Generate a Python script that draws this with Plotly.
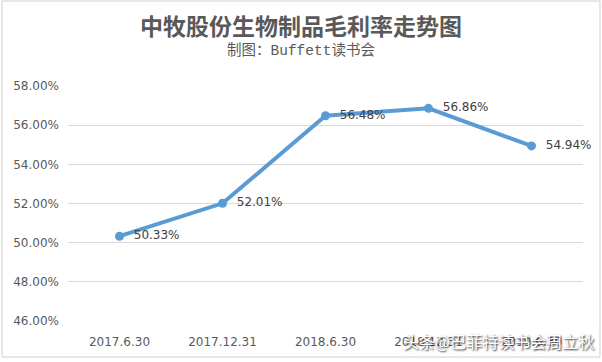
import plotly.graph_objects as go

categories = ["2017.6.30", "2017.12.31", "2018.6.30", "2018.12.31", "2019.6.30"]
margin_pct = [50.33, 52.01, 56.48, 56.86, 54.94]
y_ticks = [46, 48, 50, 52, 54, 56, 58]
y_tick_labels = ["46.00%", "48.00%", "50.00%", "52.00%", "54.00%", "56.00%", "58.00%"]
title_text = "中牧股份生物制品毛利率走势图"
subtitle_text = "制图：Buffett读书会"
watermark_text = "头条@巴菲特读书会周立秋"

L, R, T, B = 68, 19, 86, 41
W, H = 602, 362
pw, ph = W - L - R, H - T - B

def px_x(p):
    return (p - L) / pw

def px_y(p):
    return (H - B - p) / ph

label_color = "#595959"
tick_font = "DejaVu Sans, Noto Sans"
fig = go.Figure()
fig.add_trace(go.Scatter(
    x=categories, y=margin_pct,
    mode="lines+markers+text",
    text=["  %.2f%%" % v for v in margin_pct],
    textposition="middle right",
    textfont=dict(size=12, color="#404040", family=tick_font),
    line=dict(color="#5B9BD5", width=4),
    marker=dict(color="#5B9BD5", size=9),
    cliponaxis=False,
    showlegend=False,
))

fig.update_layout(
    width=W, height=H,
    margin=dict(l=L, r=R, t=T, b=B),
    paper_bgcolor="white", plot_bgcolor="white",
    font=dict(family=tick_font, color=label_color, size=12),
    xaxis=dict(
        type="category", showgrid=False, zeroline=False,
        showline=False, ticks="", tickfont=dict(size=12, color=label_color, family=tick_font),
        ticklabelstandoff=12, range=[-0.5, 4.5],
    ),
    yaxis=dict(
        range=[46, 58], tickvals=y_ticks, ticktext=y_tick_labels,
        showgrid=True, gridcolor="#D9D9D9", gridwidth=1, zeroline=False,
        showline=False, ticks="", tickfont=dict(size=12, color=label_color, family=tick_font),
        ticklabelstandoff=8,
    ),
    shapes=[dict(
        type="rect", xref="paper", yref="paper",
        x0=px_x(2), x1=px_x(600), y0=px_y(357), y1=px_y(1),
        line=dict(color="#D0D0D0", width=1), layer="below",
    )],
    annotations=[
        dict(text="<b>" + title_text + "</b>", xref="paper", yref="paper",
             x=px_x(301), y=px_y(25), showarrow=False, xanchor="center", yanchor="middle",
             font=dict(size=23, color=label_color, family="Noto Sans CJK SC")),
        dict(text=subtitle_text, xref="paper", yref="paper",
             x=px_x(301), y=px_y(50), showarrow=False, xanchor="center", yanchor="middle",
             font=dict(size=14.5, color=label_color, family="Liberation Mono, Noto Sans CJK SC")),
        dict(text=watermark_text, xref="paper", yref="paper",
             x=px_x(596), y=px_y(341), showarrow=False, xanchor="right", yanchor="middle",
             font=dict(size=16, color="white", family="Noto Sans CJK SC",
                       shadow="1px 1px 2px #222222")),
    ],
)

fig.write_html("out.html")
